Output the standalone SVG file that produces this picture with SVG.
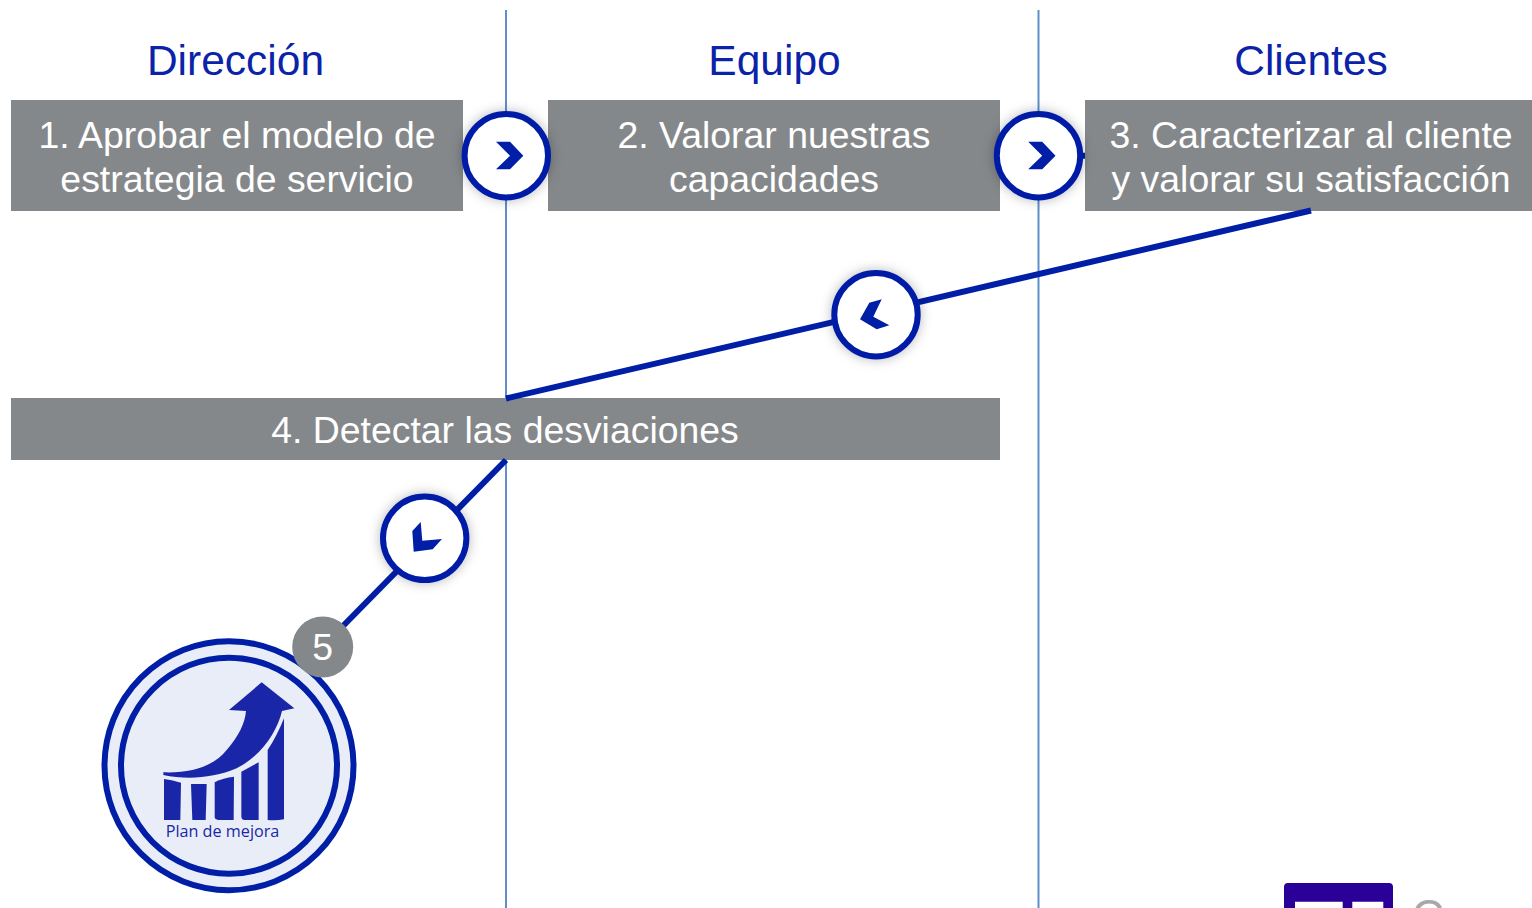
<svg xmlns="http://www.w3.org/2000/svg" width="1532" height="908" viewBox="0 0 1532 908">
<defs>
<filter id="glow" x="-30%" y="-30%" width="160%" height="160%"><feDropShadow dx="0" dy="0" stdDeviation="6" flood-color="#000" flood-opacity="0.28"/></filter>
</defs>
<style>
.t{font-family:"Liberation Sans",Arial,sans-serif;text-anchor:middle}
.h{font-size:42.500px;fill:#0a23a8}
.b{font-size:37.400px;fill:#fff}
.box{fill:#85888a}
.lane{stroke:#5f8fcb;stroke-width:2;fill:none}
.conn{stroke:#001ea6;stroke-width:6;fill:none}
.btn{fill:#fff;stroke:#001ea6;stroke-width:6;filter:url(#glow)}
.chev{fill:#001ea6}
.ico{fill:#1a26a8}
</style>
<rect width="1532" height="908" fill="#fff"/>
<g id="lanes">
<line class="lane" x1="506" y1="10" x2="506" y2="908"/>
<line class="lane" x1="1038.5" y1="10" x2="1038.5" y2="908"/>
</g>
<g id="headers">
<text class="t h" x="235.500" y="75">Dirección</text>
<text class="t h" x="774.500" y="75">Equipo</text>
<text class="t h" x="1311" y="75">Clientes</text>
</g>
<g id="node1"><rect class="box" x="11" y="100" width="452" height="111"/>
<text class="t b" x="237" y="148">1. Aprobar el modelo de</text><text class="t b" x="237" y="192">estrategia de servicio</text></g>
<g id="node2"><rect class="box" x="548" y="100" width="452" height="111"/>
<text class="t b" x="774" y="148">2. Valorar nuestras</text><text class="t b" x="774" y="192">capacidades</text></g>
<g id="node3"><rect class="box" x="1085" y="100" width="447" height="111"/>
<text class="t b" x="1311" y="148">3. Caracterizar al cliente</text><text class="t b" x="1311" y="192">y valorar su satisfacción</text></g>
<g id="node4"><rect class="box" x="11" y="398" width="989" height="62"/>
<text class="t b" x="505" y="443">4. Detectar las desviaciones</text></g>
<g id="connectors">
<line class="conn" x1="463" y1="155.7" x2="548" y2="155.7"/>
<line class="conn" x1="1000" y1="155.7" x2="1085" y2="155.7"/>
<line class="conn" x1="1311" y1="210.500" x2="506" y2="398.500"/>
<line class="conn" x1="506" y1="460" x2="343" y2="626"/>
</g>
<g id="arrow1"><circle class="btn" cx="506.3" cy="155.7" r="41.7"/><path class="chev" d="M496,141.7H510L523.3,155.7L510,169.3H496L510,155.7Z"/></g>
<g id="arrow2"><circle class="btn" cx="1038.5" cy="155.7" r="41.7"/><path class="chev" transform="translate(532.2 0)" d="M496,141.7H510L523.3,155.7L510,169.3H496L510,155.7Z"/></g>
<g id="arrow3"><circle class="btn" cx="876" cy="314.7" r="41.7"/><path class="chev" d="M881.7,299.3L869.3,302.7L860,319.3L876.7,329.3L889.3,325.3L873.3,316.7Z"/></g>
<g id="arrow4"><circle class="btn" cx="424.7" cy="538.3" r="41.7"/><path class="chev" d="M420.7,522L412.3,531L413.7,551.7L432.7,549.3L442,539L422.3,540.7Z"/></g>
<g id="node5">
<circle cx="229" cy="765.7" r="124.5" fill="#e9edf7" stroke="#001ea6" stroke-width="6"/>
<circle cx="229" cy="765.7" r="108" fill="#e9edf7" stroke="#001ea6" stroke-width="6"/>
<g class="ico" transform="translate(80 610) scale(.33333)">
<path d="M250,487C330,490 400,470 440,420C475,380 495,340 498,303L447,300L545,217L643,295L606,303C590,370 540,440 470,475C400,505 320,510 250,495Z"/>
<path d="M252,507L275,511L303,518L301,630L252,630Z"/>
<path d="M333,522H380L377,630H337Z"/>
<path d="M404,517Q430,503 462,500L461,630H415Q404,628 404,620Z"/>
<path d="M484,485L536,457V630H492Q484,628 484,620Z"/>
<path d="M563,420Q590,380 612,325V628Q590,632 563,630Z"/>
</g>
<text x="222.500" y="837" font-family="'Open Sans','Noto Sans',sans-serif" font-size="16.200" fill="#1a26a8" text-anchor="middle">Plan de mejora</text>
<circle cx="322.700" cy="647" r="30.500" fill="#85888a"/>
<text class="t" x="322.700" y="660" font-size="37.400" fill="#fff">5</text>
</g>
<g id="logo">
<path d="M1284,908V887Q1284,883 1288,883H1389Q1393,883 1393,887V908H1383.300V901.700H1352.300V908H1342.700V901.700H1295V908Z" fill="#2a0099"/>
<text x="1412" y="930.500" font-family="'Liberation Sans',sans-serif" font-size="44" fill="#a8a8a8">C</text>
</g>
</svg>
